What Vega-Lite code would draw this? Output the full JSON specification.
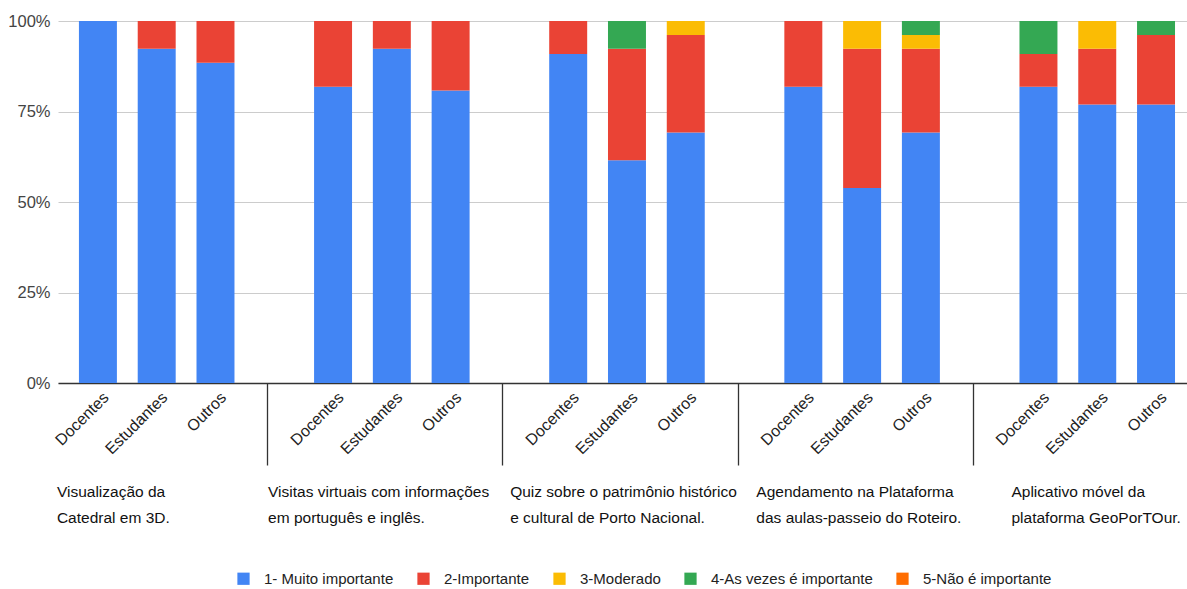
{
  "$schema": "https://vega.github.io/schema/vega-lite/v6.json",
  "width": 1129,
  "height": 362,
  "autosize": {"type": "none"},
  "padding": {"left": 58, "top": 21, "right": 0, "bottom": 206},
  "background": "white",
  "config": {
    "view": {"stroke": null},
    "font": "Liberation Sans, Arial, sans-serif"
  },
  "data": {
    "values": [
      {"slot": "1 Docentes", "nivel": "1- Muito importante", "n": 11},
      {"slot": "1 Estudantes", "nivel": "1- Muito importante", "n": 12},
      {"slot": "1 Estudantes", "nivel": "2-Importante", "n": 1},
      {"slot": "1 Outros", "nivel": "1- Muito importante", "n": 23},
      {"slot": "1 Outros", "nivel": "2-Importante", "n": 3},
      {"slot": "2 Docentes", "nivel": "1- Muito importante", "n": 9},
      {"slot": "2 Docentes", "nivel": "2-Importante", "n": 2},
      {"slot": "2 Estudantes", "nivel": "1- Muito importante", "n": 12},
      {"slot": "2 Estudantes", "nivel": "2-Importante", "n": 1},
      {"slot": "2 Outros", "nivel": "1- Muito importante", "n": 21},
      {"slot": "2 Outros", "nivel": "2-Importante", "n": 5},
      {"slot": "3 Docentes", "nivel": "1- Muito importante", "n": 10},
      {"slot": "3 Docentes", "nivel": "2-Importante", "n": 1},
      {"slot": "3 Estudantes", "nivel": "1- Muito importante", "n": 8},
      {"slot": "3 Estudantes", "nivel": "2-Importante", "n": 4},
      {"slot": "3 Estudantes", "nivel": "4-As vezes é importante", "n": 1},
      {"slot": "3 Outros", "nivel": "1- Muito importante", "n": 18},
      {"slot": "3 Outros", "nivel": "2-Importante", "n": 7},
      {"slot": "3 Outros", "nivel": "3-Moderado", "n": 1},
      {"slot": "4 Docentes", "nivel": "1- Muito importante", "n": 9},
      {"slot": "4 Docentes", "nivel": "2-Importante", "n": 2},
      {"slot": "4 Estudantes", "nivel": "1- Muito importante", "n": 7},
      {"slot": "4 Estudantes", "nivel": "2-Importante", "n": 5},
      {"slot": "4 Estudantes", "nivel": "3-Moderado", "n": 1},
      {"slot": "4 Outros", "nivel": "1- Muito importante", "n": 18},
      {"slot": "4 Outros", "nivel": "2-Importante", "n": 6},
      {"slot": "4 Outros", "nivel": "3-Moderado", "n": 1},
      {"slot": "4 Outros", "nivel": "4-As vezes é importante", "n": 1},
      {"slot": "5 Docentes", "nivel": "1- Muito importante", "n": 9},
      {"slot": "5 Docentes", "nivel": "2-Importante", "n": 1},
      {"slot": "5 Docentes", "nivel": "4-As vezes é importante", "n": 1},
      {"slot": "5 Estudantes", "nivel": "1- Muito importante", "n": 10},
      {"slot": "5 Estudantes", "nivel": "2-Importante", "n": 2},
      {"slot": "5 Estudantes", "nivel": "3-Moderado", "n": 1},
      {"slot": "5 Outros", "nivel": "1- Muito importante", "n": 20},
      {"slot": "5 Outros", "nivel": "2-Importante", "n": 5},
      {"slot": "5 Outros", "nivel": "4-As vezes é importante", "n": 1}
    ]
  },
  "layer": [
    {
      "mark": {"type": "bar"},
      "encoding": {
        "x": {
          "field": "slot",
          "type": "nominal",
          "scale": {
            "domain": ["1 Docentes", "1 Estudantes", "1 Outros", "1 sep", "2 Docentes", "2 Estudantes", "2 Outros", "2 sep", "3 Docentes", "3 Estudantes", "3 Outros", "3 sep", "4 Docentes", "4 Estudantes", "4 Outros", "4 sep", "5 Docentes", "5 Estudantes", "5 Outros"],
            "paddingInner": 0.354,
            "paddingOuter": 0.28,
            "align": 0.636
          },
          "axis": {
            "title": null,
            "orient": "bottom",
            "labelAngle": -45,
            "labelAlign": "right",
            "labelBaseline": "top",
            "labelExpr": "indexof(datum.value,'sep') >= 0 ? '' : split(datum.value,' ')[1]",
            "labelFontSize": 16,
            "labelColor": "#222222",
            "labelPadding": -76,
            "labelOffset": 9,
            "domainColor": "#333333",
            "domainWidth": 1.5,
            "tickSize": 82,
            "tickWidth": 1.3,
            "tickColor": "#333333",
            "tickOffset": -7,
            "tickOpacity": {"condition": {"test": "indexof(datum.value,'sep') >= 0", "value": 1}, "value": 0},
            "grid": false
          }
        },
        "y": {
          "field": "n",
          "type": "quantitative",
          "stack": "normalize",
          "scale": {"domain": [0, 1]},
          "axis": {
            "title": null,
            "values": [0, 0.25, 0.5, 0.75, 1],
            "format": ".0%",
            "labelFontSize": 16.5,
            "labelColor": "#444444",
            "domain": false,
            "ticks": false,
            "labelPadding": 8,
            "gridColor": "#cccccc",
            "gridWidth": 1
          }
        },
        "color": {
          "field": "nivel",
          "type": "nominal",
          "scale": {
            "domain": ["1- Muito importante", "2-Importante", "3-Moderado", "4-As vezes é importante", "5-Não é importante"],
            "range": ["#4285F4", "#EA4335", "#FBBC04", "#34A853", "#FF6D01"]
          },
          "legend": {
            "title": null,
            "orient": "none",
            "legendX": 178,
            "legendY": 550,
            "direction": "horizontal",
            "symbolType": "square",
            "symbolSize": 150,
            "symbolStrokeWidth": 0,
            "labelFontSize": 15,
            "labelLimit": 400,
            "labelColor": "#222222",
            "labelOffset": 13,
            "columnPadding": 22
          }
        },
        "order": {"field": "nivel", "type": "ordinal"}
      }
    },
    {
      "mark": {"type": "text", "text": ""},
      "encoding": {
        "x": {
          "field": "slot",
          "type": "nominal",
          "scale": {
            "domain": ["1 Docentes", "1 Estudantes", "1 Outros", "1 sep", "2 Docentes", "2 Estudantes", "2 Outros", "2 sep", "3 Docentes", "3 Estudantes", "3 Outros", "3 sep", "4 Docentes", "4 Estudantes", "4 Outros", "4 sep", "5 Docentes", "5 Estudantes", "5 Outros"],
            "paddingInner": 0.354,
            "paddingOuter": 0.28,
            "align": 0.636
          },
          "axis": {
            "title": null,
            "orient": "bottom",
            "domain": false,
            "ticks": false,
            "grid": false,
            "labelAngle": 0,
            "labelAlign": "left",
            "labelBaseline": "top",
            "labelPadding": 101,
            "labelFontSize": 15.5,
            "labelLineHeight": 26,
            "labelLimit": 400,
            "labelColor": "#111111",
            "labelExpr": "datum.value == '1 Docentes' ? ['Visualização da', 'Catedral em 3D.'] : datum.value == '2 Docentes' ? ['Visitas virtuais com informações', 'em português e inglês.'] : datum.value == '3 Docentes' ? ['Quiz sobre o patrimônio histórico', 'e cultural de Porto Nacional.'] : datum.value == '4 Docentes' ? ['Agendamento na Plataforma', 'das aulas-passeio do Roteiro.'] : datum.value == '5 Docentes' ? ['Aplicativo móvel da', 'plataforma GeoPorTOur.'] : ''",
            "labelOffset": {
              "condition": [
                {"test": "datum.value == '2 Docentes'", "value": -65},
                {"test": "datum.value == '3 Docentes'", "value": -58},
                {"test": "datum.value == '4 Docentes'", "value": -47},
                {"test": "datum.value == '5 Docentes'", "value": -27}
              ],
              "value": -41
            }
          }
        }
      }
    }
  ],
  "resolve": {"axis": {"x": "independent"}}
}
